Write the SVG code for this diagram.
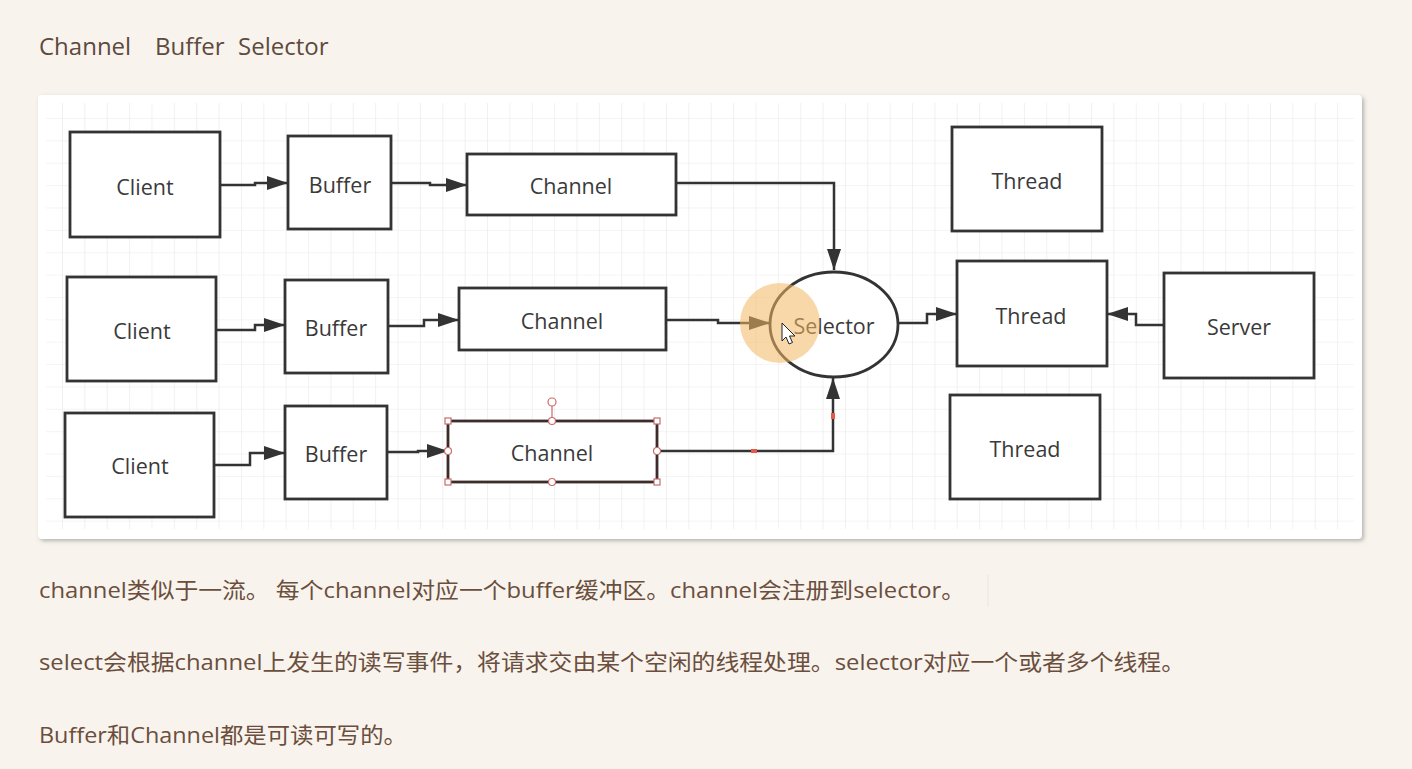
<svg xmlns="http://www.w3.org/2000/svg" width="1412" height="769" viewBox="0 0 1412 769">
<defs>
<style>
.node{fill:#fff;stroke:#333;stroke-width:2.8}
.lbl{font-family:"Open Sans","Liberation Sans",sans-serif;font-size:21.5px;fill:#3a3a3a;text-anchor:middle;dominant-baseline:central}
.conn{fill:none;stroke:#333;stroke-width:2.5}
.para{font-family:"Open Sans","Noto Sans CJK SC",sans-serif;font-size:22px;fill:#6b4e3d}
.head{font-family:"Open Sans","Noto Sans CJK SC",sans-serif;font-size:24px;fill:#5e4a3e}
.hsq{fill:#fff;stroke:#c96b6b;stroke-width:1.2}
</style>
<marker id="arr" markerUnits="userSpaceOnUse" markerWidth="24" markerHeight="16" refX="21" refY="7" orient="auto">
<path d="M0,0 L21,7 L0,14 z" fill="#333"/>
</marker>
<pattern id="grid" patternUnits="userSpaceOnUse" x="62" y="118" width="22.37" height="22.37">
<path d="M0,0 H22.37 M0,0 V22.37" fill="none" stroke="#e9e9e9" stroke-width="1.2"/>
</pattern>
<filter id="sh" x="-5%" y="-5%" width="110%" height="115%">
<feDropShadow dx="2" dy="2" stdDeviation="2" flood-color="#888" flood-opacity="0.6"/>
</filter>
</defs>
<rect x="0" y="0" width="1412" height="769" fill="#f8f4ed"/>
<text class="head" x="39" y="55">Channel</text>
<text class="head" x="155" y="55">Buffer</text>
<text class="head" x="238" y="55">Selector</text>
<rect x="38" y="95" width="1324" height="444" rx="4" fill="#fff" filter="url(#sh)"/>
<rect x="46" y="103" width="1308" height="426" fill="url(#grid)"/>
<g id="connectors">
<path class="conn" d="M220,185 H255 V183 H288" marker-end="url(#arr)"/>
<path class="conn" d="M391,183 H430 V185 H467" marker-end="url(#arr)"/>
<path class="conn" d="M676,183 H834 V270" marker-end="url(#arr)"/>
<path class="conn" d="M216,330 H255 V325 H285" marker-end="url(#arr)"/>
<path class="conn" d="M388,326 H424 V320 H459" marker-end="url(#arr)"/>
<path class="conn" d="M666,320 H718 V323 H770" marker-end="url(#arr)"/>
<path class="conn" d="M214,465 H250 V453 H285" marker-end="url(#arr)"/>
<path class="conn" d="M387,452 H418 V451 H448" marker-end="url(#arr)"/>
<path class="conn" d="M657,451 H833 V378" marker-end="url(#arr)"/>
<path class="conn" d="M898,323 H927 V314 H957" marker-end="url(#arr)"/>
<path class="conn" d="M1164,325 H1136 V314 H1107" marker-end="url(#arr)"/>
<rect x="751" y="449" width="6" height="4" fill="#e8584a"/>
<rect x="831" y="413" width="4" height="6" fill="#e8584a"/>
</g>
<g id="client1"><rect class="node" x="70" y="132" width="150" height="105"/><text class="lbl" x="145" y="186">Client</text></g>
<g id="buffer1"><rect class="node" x="288" y="136" width="103" height="93"/><text class="lbl" x="340" y="184">Buffer</text></g>
<g id="channel1"><rect class="node" x="467" y="154" width="209" height="61"/><text class="lbl" x="571" y="185">Channel</text></g>
<g id="client2"><rect class="node" x="67" y="277" width="149" height="104"/><text class="lbl" x="142" y="330">Client</text></g>
<g id="buffer2"><rect class="node" x="285" y="280" width="103" height="93"/><text class="lbl" x="336" y="327">Buffer</text></g>
<g id="channel2"><rect class="node" x="459" y="288" width="207" height="62"/><text class="lbl" x="562" y="320">Channel</text></g>
<g id="client3"><rect class="node" x="65" y="413" width="149" height="104"/><text class="lbl" x="140" y="465">Client</text></g>
<g id="buffer3"><rect class="node" x="285" y="406" width="102" height="93"/><text class="lbl" x="336" y="453">Buffer</text></g>
<g id="channel3">
<rect class="node" x="448" y="421" width="209" height="61" style="stroke:#3d2c2c"/>
<text class="lbl" x="552" y="452">Channel</text>
<line x1="552" y1="406" x2="552" y2="421" stroke="#c96b6b" stroke-width="1.2"/>
<circle class="hsq" cx="552" cy="402" r="4"/>
<rect class="hsq" x="445" y="418" width="6" height="6"/>
<rect class="hsq" x="654" y="418" width="6" height="6"/>
<rect class="hsq" x="445" y="479" width="6" height="6"/>
<rect class="hsq" x="654" y="479" width="6" height="6"/>
<circle class="hsq" cx="552" cy="421" r="3.5"/>
<circle class="hsq" cx="552" cy="482" r="3.5"/>
<circle class="hsq" cx="448" cy="451" r="3.5"/>
<circle class="hsq" cx="657" cy="451" r="3.5"/>
</g>
<g id="selector">
<ellipse class="node" cx="834" cy="324.5" rx="64" ry="52.5"/>
<text class="lbl" x="834" y="325">Selector</text>
</g>
<g id="thread1"><rect class="node" x="952" y="127" width="150" height="104"/><text class="lbl" x="1027" y="180">Thread</text></g>
<g id="thread2"><rect class="node" x="957" y="261" width="150" height="105"/><text class="lbl" x="1031" y="315">Thread</text></g>
<g id="thread3"><rect class="node" x="950" y="395" width="150" height="104"/><text class="lbl" x="1025" y="448">Thread</text></g>
<g id="server"><rect class="node" x="1164" y="273" width="150" height="105"/><text class="lbl" x="1239" y="326">Server</text></g>
<circle cx="780" cy="323" r="40" fill="#f3b861" opacity="0.55"/>
<path d="M782,323 V341 L786,337 L789,344 L792.5,342.5 L789.5,336 L795,336 Z" fill="#fff" stroke="#222" stroke-width="1"/>
<text class="para" x="39" y="598" textLength="926" lengthAdjust="spacingAndGlyphs">channel类似于一流。 每个channel对应一个buffer缓冲区。channel会注册到selector。</text>
<line x1="988" y1="575" x2="988" y2="607" stroke="#ebe4da" stroke-width="1"/>
<text class="para" x="39" y="670" textLength="1146" lengthAdjust="spacingAndGlyphs">select会根据channel上发生的读写事件，将请求交由某个空闲的线程处理。selector对应一个或者多个线程。</text>
<text class="para" x="39" y="743" textLength="368" lengthAdjust="spacingAndGlyphs">Buffer和Channel都是可读可写的。</text>
</svg>
